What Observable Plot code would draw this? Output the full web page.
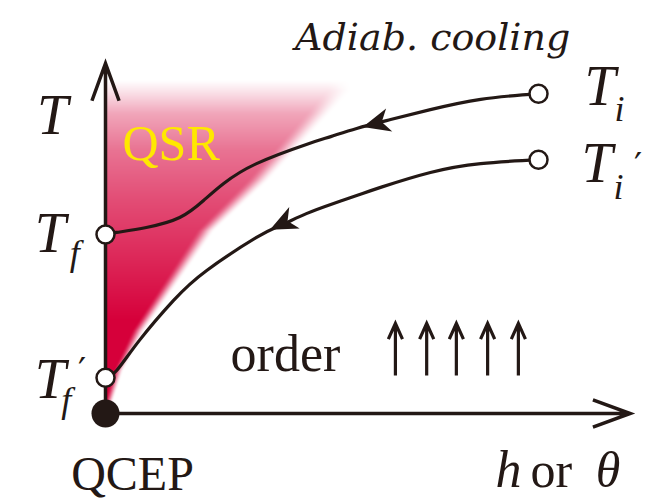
<!DOCTYPE html>
<html><head><meta charset="utf-8">
<script src="https://cdn.jsdelivr.net/npm/d3@7"></script>
<script src="https://cdn.jsdelivr.net/npm/@observablehq/plot@0.6"></script>
<style>body{margin:0;background:#fff}</style>
</head><body><div id="chart"></div>
<script>
// Adiabatic cooling path starting at T_i, ending at T_f
const path1X = [8.17,7.08,6.13,5.38,4.74,4.25,3.79,2.85,2.23,1.85,1.40,0.77,0.21,0];
const path1Y = [9.01,8.85,8.56,8.28,8.03,7.80,7.58,7.04,6.48,6.00,5.52,5.24,5.10,5.04];
// Adiabatic cooling path starting at T'_i, ending at T'_f
const path2X = [8.17,7.08,6.13,5.19,4.74,4.25,3.79,3.30,2.85,1.91,1.28,0.64,0.21,0];
const path2Y = [7.15,7.04,6.79,6.37,6.14,5.89,5.63,5.30,4.96,4.03,3.18,2.06,1.21,1.01];
// open state points (T_i, T'_i, T_f, T'_f)
const stateX = [8.17, 8.17, 0, 0];
const stateY = [9.01, 7.15, 5.04, 1.01];
// QCEP
const qcepX = [0], qcepY = [0];
// direction arrowheads on the paths
const headX = [5.11, 3.34];
const headY = [8.17, 5.35];
const headAngle = [-105, -116];
// ordered spins
const spinX = [5.47, 6.06, 6.62, 7.21, 7.79];
const spinY1 = 1.07, spinY2 = 2.54;
// QSR region: edge (midpoint of fade) and vertical intensity profile
const qsrEdgeY = [0, 1.21, 2.34, 3.75, 5.15, 6.56, 9.10];
const qsrEdgeX = [0, 0.245, 0.62, 1.26, 1.89, 2.87, 4.40];
const qsrSoft  = [0.15, 0.2, 0.25, 0.3, 0.35, 0.42, 0.5];
const qsrFadeY = [0, 2.62, 4.31, 6.0, 7.41, 8.45, 8.96, 9.38];
const qsrFadeV = [1, 1, 0.85, 0.7, 0.55, 0.35, 0.15, 0];

const ink = "#231815";
const edge = d3.scaleLinear().domain(qsrEdgeY).range(qsrEdgeX).clamp(true);
const soft = d3.scaleLinear().domain(qsrEdgeY).range(qsrSoft).clamp(true);
const fade = d3.scaleLinear().domain(qsrFadeY).range(qsrFadeV).clamp(true);
function qsr(x, y) {
  let t = (edge(y) - x) / soft(y) + 0.5;
  t = Math.max(0, Math.min(1, t));
  return t * t * (3 - 2 * t) * fade(y);
}
const stealth = {draw(ctx, size) {
  const r = Math.sqrt(size / Math.PI);
  ctx.moveTo(0, -r); ctx.lineTo(0.85 * r, 0.95 * r); ctx.lineTo(0, 0.4 * r);
  ctx.lineTo(-0.85 * r, 0.95 * r); ctx.closePath();
}};

const line1 = path1X.map((x, i) => ({x, y: path1Y[i]}));
const line2 = path2X.map((x, i) => ({x, y: path2Y[i]}));
const states = stateX.map((x, i) => ({x, y: stateY[i]}));
const heads = headX.map((x, i) => ({x, y: headY[i], a: headAngle[i]}));
const spins = spinX.map(x => ({x1: x, y1: spinY1, x2: x, y2: spinY2}));
const axes = [{x1: 0, y1: 0, x2: 9.9, y2: 0}, {x1: 0, y1: 0, x2: 0, y2: 9.86}];

const serif = "'Liberation Serif', 'Times New Roman', serif";
const wide = "'DejaVu Serif', serif";
const txt = (text, x, y, o = {}) => Plot.text([{text, x, y}], {
  x: "x", y: "y", text: "text", lineAnchor: "bottom", fontFamily: serif,
  fill: ink, ...o
});

const chart = Plot.plot({
  width: 651, height: 499,
  marginLeft: 105, marginRight: 16, marginTop: 58, marginBottom: 86,
  x: {domain: [0, 10], axis: null},
  y: {domain: [0, 10], axis: null},
  color: {type: "linear", domain: [0, 1], range: ["#ffffff", "#d6003a"]},
  style: {background: "#fff", overflow: "visible"},
  marks: [
    Plot.raster({x1: 0, y1: 0, x2: 10, y2: 10, width: 530, height: 355, fill: qsr}),
    Plot.arrow(axes, {x1: "x1", y1: "y1", x2: "x2", y2: "y2", stroke: ink, strokeWidth: 3.5,
      headAngle: 40, headLength: 17, strokeMiterlimit: 6, strokeLinecap: "butt"}),
    Plot.line(line1, {x: "x", y: "y", curve: "natural", stroke: ink, strokeWidth: 3.2}),
    Plot.line(line2, {x: "x", y: "y", curve: "natural", stroke: ink, strokeWidth: 3.2}),
    Plot.dot(heads, {x: "x", y: "y", rotate: "a", symbol: stealth, r: 14, fill: ink, stroke: "none"}),
    Plot.arrow(spins, {x1: "x1", y1: "y1", x2: "x2", y2: "y2", stroke: ink, strokeWidth: 3.2,
      headAngle: 48, headLength: 9, strokeMiterlimit: 6, strokeLinecap: "butt"}),
    Plot.dot(qcepX.map((x, i) => ({x, y: qcepY[i]})), {x: "x", y: "y", r: 14, fill: ink, stroke: "none"}),
    Plot.dot(states, {x: "x", y: "y", r: 9, fill: "#fff", stroke: ink, strokeWidth: 2.5}),
    txt("Adiab. cooling", 8.77, 10.23, {textAnchor: "end", fontSize: 38, fontStyle: "italic", fontFamily: wide}),
    txt("QSR", 0.32, 7.13, {textAnchor: "start", fontSize: 50, fill: "#ffe800"}),
    txt("order", 2.36, 1.21, {textAnchor: "start", fontSize: 52}),
    txt("QCEP", 0.51, -2.15, {textAnchor: "middle", fontSize: 48}),
    txt("T", -1.0, 7.86, {textAnchor: "middle", fontSize: 56, fontStyle: "italic"}),
    txt("T", -1.04, 4.54, {textAnchor: "middle", fontSize: 56, fontStyle: "italic"}),
    txt("f", -0.58, 4.17, {textAnchor: "middle", fontSize: 36, fontStyle: "italic"}),
    txt("T", -1.04, 0.45, {textAnchor: "middle", fontSize: 56, fontStyle: "italic"}),
    txt("′", -0.44, 0.86, {textAnchor: "middle", fontSize: 36, fontFamily: wide}),
    txt("f", -0.74, 0.03, {textAnchor: "middle", fontSize: 36, fontStyle: "italic"}),
    txt("T", 9.04, 8.68, {textAnchor: "start", fontSize: 56, fontStyle: "italic"}),
    txt("i", 9.7, 8.23, {textAnchor: "middle", fontSize: 36, fontStyle: "italic"}),
    txt("T", 8.98, 6.51, {textAnchor: "start", fontSize: 56, fontStyle: "italic"}),
    txt("′", 10.05, 6.62, {textAnchor: "middle", fontSize: 36, fontFamily: wide}),
    txt("i", 9.68, 6.03, {textAnchor: "middle", fontSize: 36, fontStyle: "italic"}),
    txt("h", 7.36, -2.08, {textAnchor: "start", fontSize: 52, fontStyle: "italic"}),
    txt("or", 8.02, -2.08, {textAnchor: "start", fontSize: 50}),
    txt("θ", 9.25, -2.08, {textAnchor: "start", fontSize: 50, fontStyle: "italic"})
  ]
});
document.getElementById("chart").append(chart);
</script></body></html>
